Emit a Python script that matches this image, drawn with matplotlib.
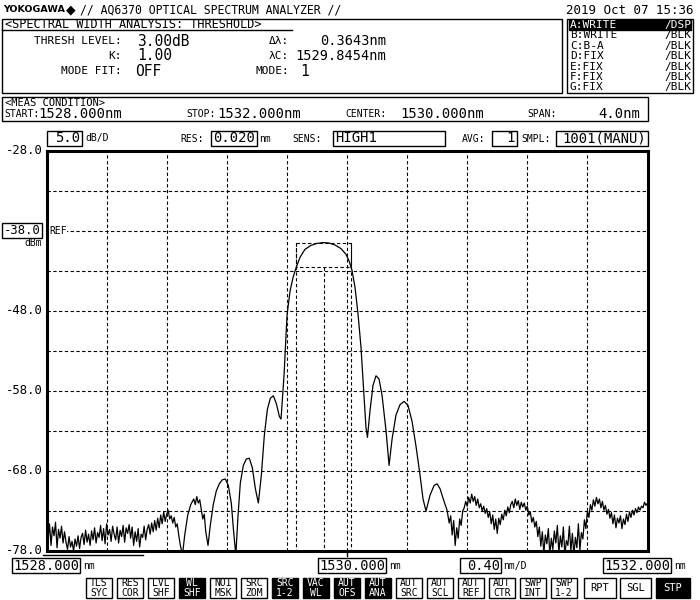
import numpy as np
import matplotlib.pyplot as plt
from matplotlib.patches import Rectangle

plt.rcParams['font.family'] = ['DejaVu Sans Mono', 'DejaVu Sans']

# ---- trace A (WRITE / DSP) ----
# left noise floor, 0.01 nm sampling from 1528.00 to 1528.89
noise_left_wl = np.round(1528.00 + 0.01 * np.arange(90), 3)
noise_left_dbm = [
    -75.2, -76.8, -74.6, -77.3, -75.0, -76.1, -74.4, -77.6, -75.3, -76.4,
    -74.9, -77.0, -75.6, -76.9, -77.8, -76.2, -77.5, -76.8, -78.0, -76.5,
    -77.4, -76.1, -77.7, -76.3, -75.8, -77.2, -75.4, -76.9, -75.9, -77.3,
    -75.5, -76.6, -75.1, -77.0, -75.7, -76.3, -74.8, -76.7, -75.2, -77.1,
    -74.6, -76.0, -75.3, -76.8, -74.9, -75.9, -76.6, -75.0, -77.0, -75.4,
    -76.2, -74.8, -76.9, -75.1, -75.8, -74.7, -76.4, -75.0, -77.3, -75.6,
    -76.8, -75.2, -77.5, -75.9, -76.3, -74.9, -76.6, -75.3, -74.7, -75.9,
    -74.5, -75.6, -74.2, -75.4, -73.9, -75.1, -73.5, -74.6, -73.1, -74.3,
    -73.4, -72.9, -74.0, -73.6, -74.5, -73.8, -75.0, -74.6, -76.0, -77.2,
]

# side lobes and main lobe
lobe_wl = [
    1528.905, 1528.92, 1528.94, 1528.96, 1528.98, 1528.99, 1529.00, 1529.01,
    1529.02, 1529.03, 1529.04, 1529.05, 1529.06, 1529.075, 1529.09, 1529.11,
    1529.13, 1529.15, 1529.17, 1529.19, 1529.21, 1529.23, 1529.245, 1529.26,
    1529.275, 1529.29, 1529.31, 1529.33, 1529.35, 1529.37, 1529.39, 1529.41,
    1529.43, 1529.45, 1529.47, 1529.49, 1529.51, 1529.53, 1529.55, 1529.561,
    1529.581, 1529.601, 1529.621, 1529.641, 1529.661, 1529.687, 1529.720,
    1529.760, 1529.800, 1529.840, 1529.880, 1529.920, 1529.960, 1529.993,
    1530.013, 1530.033, 1530.053, 1530.073, 1530.093, 1530.113, 1530.126,
    1530.136, 1530.153, 1530.173, 1530.193, 1530.213, 1530.233, 1530.260,
    1530.280, 1530.300, 1530.326, 1530.353, 1530.380, 1530.406, 1530.433,
    1530.460, 1530.486, 1530.506, 1530.526, 1530.553, 1530.580, 1530.599,
    1530.619, 1530.646, 1530.666,
]
lobe_dbm = [
    -78.5, -76.0, -73.5, -72.2, -71.5, -72.2, -71.2, -72.0,
    -71.6, -72.8, -74.0, -73.4, -75.6, -77.3, -74.8, -72.2,
    -70.5, -69.6, -69.1, -69.0, -69.8, -72.0, -75.5, -78.5,
    -73.5, -69.5, -67.3, -66.5, -66.4, -67.6, -70.2, -72.0,
    -68.5, -63.5, -60.3, -58.9, -58.6, -59.6, -61.2, -61.5,
    -56.0, -48.5, -45.5, -43.8, -42.6, -41.3, -40.3,
    -39.8, -39.55, -39.45, -39.5, -39.75, -40.2, -40.9,
    -41.7, -42.9, -45.0, -48.3, -52.5, -58.5, -62.5,
    -63.8, -60.5, -57.3, -56.1, -56.5, -58.5, -63.0,
    -67.3, -64.0, -61.0, -59.7, -59.3, -59.8, -61.8,
    -65.0, -68.5, -71.5, -73.0, -71.0, -69.8, -69.6,
    -70.2, -71.8, -72.9,
]

# right noise floor, 0.01 nm sampling from 1530.68 to 1532.00
noise_right_wl = np.round(1530.68 + 0.01 * np.arange(133), 3)
noise_right_dbm = [
    -74.5, -73.6,
    -76.0, -74.2, -77.3, -75.1, -76.4, -74.0, -74.8, -73.0, -72.6, -71.8,
    -72.4, -71.3, -72.0, -70.9, -71.8, -71.2, -72.3, -71.5, -72.6, -72.1,
    -73.0, -72.4, -73.3, -72.7, -73.8, -73.1, -74.6, -73.5, -75.3, -74.0,
    -75.8, -73.9, -74.7, -73.4, -74.1, -72.9, -73.6, -72.5, -73.2, -72.2,
    -71.8, -72.6, -71.5, -72.3, -71.7, -72.8, -71.9, -72.5, -72.0, -72.9,
    -72.4, -73.5, -73.1, -74.4, -73.8, -75.0, -74.3, -76.2, -75.0, -77.4,
    -75.6, -78.3, -76.0, -77.1, -75.2, -78.5, -76.4, -77.8, -75.5, -77.0,
    -74.8, -78.2, -76.1, -77.5, -75.0, -78.5, -76.7, -77.3, -74.9, -78.0,
    -75.8, -78.5, -76.3, -77.6, -74.6, -77.9, -75.7, -76.5, -74.1, -75.2,
    -73.0, -73.8, -72.2, -72.9, -71.6, -72.4, -71.3, -72.1, -71.5, -72.6,
    -71.8, -72.9, -72.3, -73.4, -72.8, -73.9, -73.2, -74.6, -73.5, -75.1,
    -73.9, -74.5, -73.6, -75.2, -74.0, -74.7, -73.4, -74.3, -73.1, -73.8,
    -72.9, -73.5, -72.7, -73.2, -72.5, -72.9, -72.4, -72.6, -71.9, -72.3,
    -72.0,
]

# analysis result (threshold 3 dB)
lam_c = 1529.8454
delta_lam = 0.3643
thresh_db = 3.0

start_wl, stop_wl = 1528.0, 1532.0
ref_dbm, db_per_div = -38.0, 5.0
y_top = ref_dbm + 2 * db_per_div
y_bot = y_top - 10 * db_per_div
y_labels = ['-28.0', '-48.0', '-58.0', '-68.0', '-78.0']

buttons = [
    ('TLS\nSYC', 86, False), ('RES\nCOR', 117, False), ('LVL\nSHF', 148, False),
    ('WL\nSHF', 179, True), ('NOI\nMSK', 210, False), ('SRC\nZOM', 241, False),
    ('SRC\n1-2', 272, True), ('VAC\nWL', 303, True), ('AUT\nOFS', 334, True),
    ('AUT\nANA', 365, True), ('AUT\nSRC', 396, False), ('AUT\nSCL', 427, False),
    ('AUT\nREF', 458, False), ('AUT\nCTR', 489, False), ('SWP\nINT', 520, False),
    ('SWP\n1-2', 551, False),
]
big_buttons = [('RPT', 584, 616, False), ('SGL', 620, 651, False), ('STP', 656, 690, True)]
traces = [('A:WRITE', '/DSP'), ('B:WRITE', '/BLK'), ('C:B-A', '/BLK'), ('D:FIX', '/BLK'),
          ('E:FIX', '/BLK'), ('F:FIX', '/BLK'), ('G:FIX', '/BLK')]

fig = plt.figure(figsize=(7, 6), dpi=100)
ax = fig.add_axes([46.5 / 700, 1 - 551 / 600, 601 / 700, 400 / 600])
ov = fig.add_axes([0, 0, 1, 1], zorder=3)
ov.set_xlim(0, 700)
ov.set_ylim(600, 0)
ov.axis('off')

# ---- plot area ----
ax.set_xlim(start_wl, stop_wl)
ax.set_ylim(y_bot, y_top)
ax.set_xticks([])
ax.set_yticks([])
for sp in ax.spines.values():
    sp.set_linewidth(2.2)
dash = (0, (3, 2.2))
for i in range(1, 10):
    ax.axvline(start_wl + i * (stop_wl - start_wl) / 10, color='black', lw=0.8, ls=dash)
    ax.axhline(y_bot + i * db_per_div, color='black', lw=0.8, ls=dash)

wl = np.concatenate([noise_left_wl, lobe_wl, noise_right_wl])
dbm = np.concatenate([noise_left_dbm, lobe_dbm, noise_right_dbm])
ax.plot(wl, dbm, color='black', lw=0.9)

# threshold box
pk = max(lobe_dbm)
l_edge, r_edge = lam_c - delta_lam / 2, lam_c + delta_lam / 2
ax.plot([l_edge, r_edge, r_edge, l_edge, l_edge],
        [pk, pk, pk - thresh_db, pk - thresh_db, pk], color='black', lw=0.8, ls=dash)
ax.plot([l_edge, l_edge], [pk, y_bot], color='black', lw=0.8, ls=dash)
ax.plot([r_edge, r_edge], [pk, y_bot], color='black', lw=0.8, ls=dash)
ax.plot([lam_c, lam_c], [pk - thresh_db, y_bot], color='black', lw=0.8, ls=dash)


def txt(x, y, s, size=8, ha='left', **kw):
    ov.text(x, y, s, fontsize=size, ha=ha, va='center', **kw)


def box(x0, y0, x1, y1, fill=False, lw=1.0):
    ov.add_patch(Rectangle((x0, y0), x1 - x0, y1 - y0, fill=fill, fc='black',
                           ec='black', lw=lw))


# header
txt(3, 10, 'YOKOGAWA', 6.8, weight='bold', family='DejaVu Sans')
txt(66, 10, '\u25c6', 9, family='DejaVu Sans')
txt(80, 10, '// AQ6370 OPTICAL SPECTRUM ANALYZER //', 8.3)
txt(694, 10, '2019 Oct 07 15:36', 9, ha='right')

# analysis box
box(2, 19, 562, 93)
ov.plot([2, 292], [30, 30], color='black', lw=1)
txt(5, 25, '<SPECTRAL WIDTH ANALYSIS: THRESHOLD>', 8.6)
txt(122, 41, 'THRESH LEVEL:', 8, ha='right')
txt(122, 56, 'K:', 8, ha='right')
txt(122, 71, 'MODE FIT:', 8, ha='right')
txt(137, 41, '%.2fdB' % thresh_db, 10.5)
txt(137, 56, '1.00', 10.5)
txt(135, 71, 'OFF', 10.5)
txt(289, 41, '\u0394\u03bb:', 8, ha='right')
txt(289, 56, '\u03bbC:', 8, ha='right')
txt(289, 71, 'MODE:', 8, ha='right')
txt(386, 41, '%.4fnm' % delta_lam, 9.8, ha='right')
txt(386, 56, '%.4fnm' % lam_c, 9.8, ha='right')
txt(300, 71, '1', 10.5)

# trace box
box(567, 19, 693, 93)
for i, (a, b) in enumerate(traces):
    y = 25 + i * 10.4
    col = 'black'
    if i == 0:
        box(569, y - 5, 691, y + 5, fill=True)
        col = 'white'
    txt(570, y, a, 8, color=col)
    txt(691, y, b, 8, ha='right', color=col)

# measurement condition box
box(2, 97, 648, 121)
txt(5, 103, '<MEAS CONDITION>', 7.5)
txt(4, 114, 'START:', 7)
txt(38, 114, '%.3fnm' % start_wl, 10)
txt(186, 114, 'STOP:', 7)
txt(217, 114, '%.3fnm' % stop_wl, 10)
txt(345, 114, 'CENTER:', 7)
txt(400, 114, '%.3fnm' % ((start_wl + stop_wl) / 2), 10)
txt(527, 114, 'SPAN:', 7)
txt(640, 114, '%.1fnm' % (stop_wl - start_wl), 10, ha='right')

# settings row
box(47, 131, 82, 146)
txt(80, 138.5, '%.1f' % db_per_div, 10, ha='right')
txt(85, 138.5, 'dB/D', 7)
txt(180, 138.5, 'RES:', 7)
box(211, 131, 257, 146)
txt(255, 138.5, '0.020', 10, ha='right')
txt(259, 138.5, 'nm', 7)
txt(292, 138.5, 'SENS:', 7)
box(333, 131, 445, 146)
txt(335, 138.5, 'HIGH1', 10)
txt(462, 138.5, 'AVG:', 7)
box(492, 131, 517, 146)
txt(515, 138.5, '1', 10, ha='right')
txt(521, 138.5, 'SMPL:', 7)
box(556, 131, 648, 146)
txt(646, 138.5, '1001(MANU)', 10, ha='right')

# y axis labels
for s in y_labels:
    v = float(s)
    y = 151 + (y_top - v) * 8
    txt(43, y, s, 8.8, ha='right')
box(2, 223, 42, 238)
txt(41, 230.5, '%.1f' % ref_dbm, 8.8, ha='right')
txt(42, 243, 'dBm', 7, ha='right')
txt(49, 230.5, 'REF', 7, bbox=dict(fc='white', ec='none', pad=0.3))

# x axis labels
ov.plot([43, 143], [555, 555], color='black', lw=1)
ov.plot([347, 347], [551, 556], color='black', lw=1)
box(12, 558, 80, 573)
txt(79, 565.5, '%.3f' % start_wl, 9.8, ha='right')
txt(83, 566, 'nm', 7)
box(318, 558, 386, 573)
txt(385, 565.5, '%.3f' % ((start_wl + stop_wl) / 2), 9.8, ha='right')
txt(389, 566, 'nm', 7)
box(460, 558, 501, 573)
txt(500, 565.5, '%.2f' % ((stop_wl - start_wl) / 10), 9.8, ha='right')
txt(503, 566, 'nm/D', 7)
box(603, 558, 671, 573)
txt(670, 565.5, '%.3f' % stop_wl, 9.8, ha='right')
txt(674, 566, 'nm', 7)

# soft keys
for lab, x0, filled in buttons:
    box(x0, 578, x0 + 26, 598, fill=filled)
    l1, l2 = lab.split('\n')
    c = 'white' if filled else 'black'
    txt(x0 + 13, 583.5, l1, 7, ha='center', color=c)
    txt(x0 + 13, 592.5, l2, 7, ha='center', color=c)
for lab, x0, x1, filled in big_buttons:
    box(x0, 578, x1, 598, fill=filled)
    txt((x0 + x1) / 2, 588, lab, 7.5, ha='center', color='white' if filled else 'black')

fig.savefig('out.png', dpi=100)
